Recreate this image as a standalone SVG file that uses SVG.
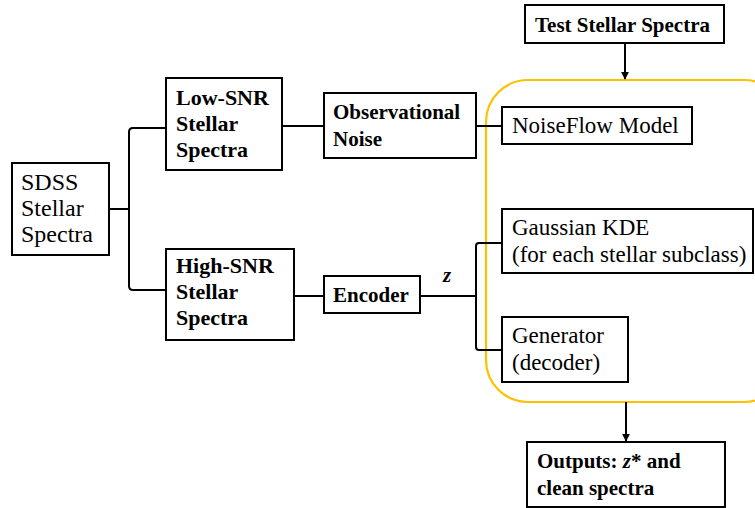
<svg xmlns="http://www.w3.org/2000/svg" width="755" height="508" viewBox="0 0 755 508">
  <defs>
    <marker id="arrow" viewBox="0 0 10 10" refX="9" refY="5" markerWidth="4" markerHeight="4" orient="auto" markerUnits="strokeWidth">
      <path d="M0,0 L10,5 L0,10 z" fill="#000"/>
    </marker>
    <style>
      .box { fill: #fff; stroke: #000; stroke-width: 2; }
      .wire { fill: none; stroke: #000; stroke-width: 2; }
      .group { fill: none; stroke: #FFC000; stroke-width: 2.2; }
      .b { font-weight: bold; font-size: 21px; }
      .r { font-size: 23px; }
    </style>
  </defs>

  <rect width="755" height="508" fill="#fff"/>

  <!-- grouping frame around the generative model -->
  <rect class="group" x="486" y="80" width="300" height="322" rx="42" ry="42"/>

  <g font-family="Liberation Serif, DejaVu Serif, serif" font-size="21" fill="#000">
  <!-- connectors -->
  <g id="connectors">
    <path class="wire" d="M109,209 H129"/>
    <path class="wire" d="M166,128 H133 Q129,128 129,132 V286 Q129,290 133,290 H166"/>
    <path class="wire" d="M282,126 H324"/>
    <path class="wire" d="M476,126 H502"/>
    <path class="wire" d="M294,296 H324"/>
    <path class="wire" d="M420,296 H476"/>
    <path class="wire" d="M502,243 H479 Q476,243 476,246 V347 Q476,350 479,350 H502"/>
    <path class="wire" d="M625,43 V79" marker-end="url(#arrow)"/>
    <path class="wire" d="M626,402 V441" marker-end="url(#arrow)"/>
    <text class="b" x="443" y="282" font-style="italic">z</text>
  </g>

  <g id="sdss">
    <rect class="box" x="12" y="163" width="97" height="92"/>
    <text x="21" y="190" font-size="24">SDSS</text>
    <text x="21" y="216" font-size="24">Stellar</text>
    <text x="21" y="242" font-size="24">Spectra</text>
  </g>

  <g id="low-snr">
    <rect class="box" x="166" y="78" width="116" height="92"/>
    <text class="b" x="176" y="105" style="font-size:22px">Low-SNR</text>
    <text class="b" x="176" y="131" style="font-size:22px">Stellar</text>
    <text class="b" x="176" y="157" style="font-size:22px">Spectra</text>
  </g>

  <g id="high-snr">
    <rect class="box" x="166" y="249" width="128" height="91"/>
    <text class="b" x="176" y="273" style="font-size:22px">High-SNR</text>
    <text class="b" x="176" y="299" style="font-size:22px">Stellar</text>
    <text class="b" x="176" y="325" style="font-size:22px">Spectra</text>
  </g>

  <g id="observational-noise">
    <rect class="box" x="324" y="93" width="152" height="65"/>
    <text class="b" x="333" y="119">Observational</text>
    <text class="b" x="333" y="146">Noise</text>
  </g>

  <g id="encoder">
    <rect class="box" x="324" y="276" width="96" height="37"/>
    <text class="b" x="333" y="302">Encoder</text>
  </g>

  <g id="test-spectra">
    <rect class="box" x="525" y="5" width="199" height="38"/>
    <text class="b" x="535" y="32">Test Stellar Spectra</text>
  </g>

  <g id="noiseflow">
    <rect class="box" x="502" y="107" width="190" height="37"/>
    <text class="r" x="512" y="133">NoiseFlow Model</text>
  </g>

  <g id="kde">
    <rect class="box" x="502" y="209" width="251" height="64"/>
    <text class="r" x="512" y="235">Gaussian KDE</text>
    <text class="r" x="512" y="262">(for each stellar subclass)</text>
  </g>

  <g id="generator">
    <rect class="box" x="502" y="317" width="126" height="65"/>
    <text class="r" x="512" y="343">Generator</text>
    <text class="r" x="512" y="370">(decoder)</text>
  </g>

  <g id="outputs">
    <rect class="box" x="527" y="442" width="198" height="65"/>
    <text class="b" x="537" y="468">Outputs: <tspan font-style="italic">z</tspan>* and</text>
    <text class="b" x="537" y="495">clean spectra</text>
  </g>
  </g>
</svg>
